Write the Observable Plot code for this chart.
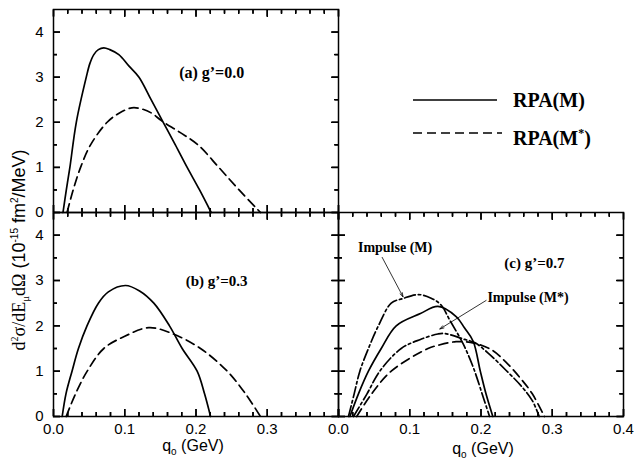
<!DOCTYPE html>
<html><head><meta charset="utf-8">
<script src="https://cdn.jsdelivr.net/npm/d3@7"></script>
<script src="https://cdn.jsdelivr.net/npm/@observablehq/plot@0.6"></script>
<style>
body{margin:0;background:#fff;}
#wrap{position:relative;width:634px;height:464px;overflow:hidden;background:#fff;}
#wrap svg{position:absolute;overflow:visible;}
.lbl{position:absolute;white-space:nowrap;color:#000;}
.serif{font-family:"Liberation Serif","Times New Roman",serif;}
.sans{font-family:"Liberation Sans",Arial,sans-serif;}
</style></head><body><div id="wrap"></div>
<script>
// ---------- data (q0 in GeV, cross section in 10^-15 fm^2/MeV) ----------
// panel (a) g'=0.0
const qA_rpaM  = [0.0133, 0.018, 0.023, 0.032, 0.046, 0.051, 0.0566, 0.063, 0.0706, 0.079, 0.0917, 0.1057, 0.120, 0.137, 0.154, 0.171, 0.1876, 0.205, 0.2213];
const vA_rpaM  = [0, 0.5, 1, 2, 3, 3.3, 3.5, 3.61, 3.65, 3.61, 3.5, 3.25, 3.0, 2.5, 2.0, 1.5, 1.0, 0.5, 0];
const qA_rpaMs = [0.019, 0.0276, 0.038, 0.052, 0.0753, 0.092, 0.110, 0.125, 0.138, 0.152, 0.178, 0.2028, 0.232, 0.2605, 0.2905];
const vA_rpaMs = [0, 0.5, 1, 1.5, 2, 2.2, 2.32, 2.29, 2.2, 2.03, 1.77, 1.5, 1.0, 0.5, 0];
// panel (b) g'=0.3
const qB_rpaM  = [0.0122, 0.0175, 0.026, 0.035, 0.047, 0.063, 0.077, 0.101, 0.1208, 0.1408, 0.1628, 0.1806, 0.2016, 0.212, 0.2204];
const vB_rpaM  = [0, 0.5, 1, 1.5, 2, 2.5, 2.75, 2.89, 2.77, 2.5, 2.0, 1.5, 1.0, 0.5, 0];
const qB_rpaMs = [0.0178, 0.0309, 0.0473, 0.0706, 0.100, 0.1338, 0.1666, 0.2063, 0.2438, 0.2695, 0.2905];
const vB_rpaMs = [0, 0.5, 1, 1.5, 1.77, 1.96, 1.83, 1.5, 1.0, 0.5, 0];
// panel (c) g'=0.7
const qC_rpaM  = [0.016, 0.028, 0.042, 0.060, 0.081, 0.115, 0.1395, 0.1655, 0.177, 0.189, 0.199, 0.207, 0.2166];
const vC_rpaM  = [0, 0.5, 1, 1.5, 2, 2.27, 2.43, 2.2, 1.95, 1.66, 1.0, 0.5, 0];
const qC_rpaMs = [0.0256, 0.0465, 0.074, 0.1256, 0.1395, 0.165, 0.19, 0.216, 0.235, 0.255, 0.272, 0.289];
const vC_rpaMs = [0, 0.5, 1, 1.5, 1.57, 1.65, 1.62, 1.46, 1.2, 0.85, 0.5, 0];
const qC_impM  = [0.014, 0.022, 0.030, 0.042, 0.056, 0.074, 0.090, 0.112, 0.130, 0.144, 0.156, 0.175, 0.189, 0.203, 0.212];
const vC_impM  = [0, 0.5, 1, 1.5, 2, 2.5, 2.6, 2.69, 2.61, 2.46, 2.13, 1.6, 1.09, 0.43, 0];
const qC_impMs = [0.021, 0.040, 0.058, 0.088, 0.115, 0.1395, 0.149, 0.177, 0.191, 0.21, 0.235, 0.256, 0.272, 0.2817];
const vC_impMs = [0, 0.5, 1, 1.5, 1.70, 1.82, 1.83, 1.70, 1.63, 1.4, 1.02, 0.68, 0.35, 0];

// ---------- ticks ----------
const xMajorTicks = [0, 0.1, 0.2, 0.3, 0.4];
const xMinorTicks = [0.02, 0.04, 0.06, 0.08, 0.12, 0.14, 0.16, 0.18, 0.22, 0.24, 0.26, 0.28, 0.32, 0.34, 0.36, 0.38];
const yMajorTicks = [0, 1, 2, 3, 4];
const yMinorTicks = [0.5, 1.5, 2.5, 3.5];
const xLabelsB = [0, 0.1, 0.2, 0.3];
const xLabelsC = [0, 0.1, 0.2, 0.3, 0.4];
const yLabels = [0, 1, 2, 3, 4];
const X_DOMAIN = [0, 0.4];
const Y_DOMAIN = [0, 4.5];

// ---------- annotations ----------
const panelLabels = {
  a: {text: "(a) g’=0.0", q: 0.222, v: 3.1, size: 16},
  b: {text: "(b) g’=0.3", q: 0.229, v: 2.98, size: 15},
  c: {text: "(c) g’=0.7", q: 0.275, v: 3.38, size: 15}
};
const impulseLabels = [
  {text: "Impulse (M)", q: 0.0794, v: 3.73},
  {text: "Impulse (M*)", q: 0.266, v: 2.63}
];
const impulseArrows = [
  {x1: 0.0613, y1: 3.51, x2: 0.0906, y2: 2.64},
  {x1: 0.2072, y1: 2.56, x2: 0.1422, y2: 1.93}
];

const DASH = "9,5";
const DASHDOT = "11,3,2.5,3";
const rows = (q, v) => q.map((d, i) => ({q: d, v: v[i]}));
const wrap = document.getElementById("wrap");
const noText = () => "";

// inward tick marks on all four sides
function tickMarks(innerW, innerH) {
  const kx = innerW / (X_DOMAIN[1] - X_DOMAIN[0]);
  const ky = innerH / (Y_DOMAIN[1] - Y_DOMAIN[0]);
  const out = [];
  for (const [vals, len] of [[xMajorTicks, 7], [xMinorTicks, 4]]) {
    const dy = len / ky;
    out.push(Plot.ruleX(vals, {x: d => d, y1: Y_DOMAIN[0], y2: Y_DOMAIN[0] + dy, stroke: "black", strokeWidth: 1.5}));
    out.push(Plot.ruleX(vals, {x: d => d, y1: Y_DOMAIN[1] - dy, y2: Y_DOMAIN[1], stroke: "black", strokeWidth: 1.5}));
    out.push(Plot.axisX(vals, {anchor: "bottom", tickSize: -len, tickFormat: noText, label: null, stroke: "black", strokeWidth: 1.5}));
    out.push(Plot.axisX(vals, {anchor: "top", tickSize: -len, tickFormat: noText, label: null, stroke: "black", strokeWidth: 1.5}));
  }
  for (const [vals, len] of [[yMajorTicks, 7], [yMinorTicks, 4]]) {
    const dx = len / kx;
    out.push(Plot.ruleY(vals, {y: d => d, x1: X_DOMAIN[0], x2: X_DOMAIN[0] + dx, stroke: "black", strokeWidth: 1.5}));
    out.push(Plot.ruleY(vals, {y: d => d, x1: X_DOMAIN[1] - dx, x2: X_DOMAIN[1], stroke: "black", strokeWidth: 1.5}));
    out.push(Plot.axisY(vals, {anchor: "left", tickSize: -len, tickFormat: noText, label: null, stroke: "black", strokeWidth: 1.5}));
    out.push(Plot.axisY(vals, {anchor: "right", tickSize: -len, tickFormat: noText, label: null, stroke: "black", strokeWidth: 1.5}));
  }
  return out;
}

function panel(cfg) {
  const {left, top, width, height, mL, mR, mT, mB} = cfg;
  const innerW = width - mL - mR, innerH = height - mT - mB;
  const marks = [...tickMarks(innerW, innerH)];
  for (const s of cfg.series) {
    marks.push(Plot.line(rows(s.q, s.v), {x: "q", y: "v", curve: "catmull-rom", stroke: "black",
      strokeWidth: 1.7, strokeDasharray: s.dash || null}));
  }
  marks.push(Plot.frame({stroke: "black", strokeWidth: 1.5}));
  if (cfg.xLabels) marks.push(Plot.axisX(cfg.xLabels, {tickSize: 0, tickPadding: 7, tickFormat: d3.format(".1f"), label: null, fontSize: 15}));
  if (cfg.yLabels) marks.push(Plot.axisY(cfg.yLabels, {tickSize: 0, tickPadding: 10, tickFormat: d3.format("d"), label: null, fontSize: 15}));
  const pl = cfg.panelLabel;
  marks.push(Plot.text([pl], {x: "q", y: "v", text: "text", fontFamily: "Liberation Serif", fontWeight: "bold", fontSize: pl.size, fill: "black"}));
  if (cfg.extra) marks.push(...cfg.extra);
  const svg = Plot.plot({
    width, height, marginLeft: mL, marginRight: mR, marginTop: mT, marginBottom: mB,
    x: {domain: X_DOMAIN, label: null},
    y: {domain: Y_DOMAIN, label: null},
    style: {background: "transparent", fontFamily: "Liberation Sans, Arial, sans-serif", fontSize: "15px", color: "black", overflow: "visible"},
    marks
  });
  svg.style.position = "absolute";
  svg.style.left = left + "px";
  svg.style.top = top + "px";
  wrap.appendChild(svg);
}

panel({left: 0, top: 0, width: 340, height: 214, mL: 53, mR: 2, mT: 9, mB: 2,
  series: [{q: qA_rpaM, v: vA_rpaM}, {q: qA_rpaMs, v: vA_rpaMs, dash: DASH}],
  yLabels, panelLabel: panelLabels.a});

panel({left: 0, top: 210, width: 340, height: 254, mL: 53, mR: 2, mT: 2, mB: 48,
  series: [{q: qB_rpaM, v: vB_rpaM}, {q: qB_rpaMs, v: vB_rpaMs, dash: DASH}],
  xLabels: xLabelsB, yLabels, panelLabel: panelLabels.b});

panel({left: 336, top: 210, width: 298, height: 254, mL: 2, mR: 11, mT: 2, mB: 48,
  series: [{q: qC_rpaM, v: vC_rpaM}, {q: qC_rpaMs, v: vC_rpaMs, dash: DASH},
           {q: qC_impM, v: vC_impM, dash: DASHDOT}, {q: qC_impMs, v: vC_impMs, dash: DASHDOT}],
  xLabels: xLabelsC, panelLabel: panelLabels.c,
  extra: [
    Plot.text(impulseLabels, {x: "q", y: "v", text: "text", fontFamily: "Liberation Serif", fontWeight: "bold", fontSize: 14, fill: "black"}),
    Plot.arrow(impulseArrows, {x1: "x1", y1: "y1", x2: "x2", y2: "y2", stroke: "black", strokeWidth: 0.8, headLength: 8, headAngle: 35})
  ]});

// ---------- axis titles & legend ----------
function addLbl(html, style) {
  const d = document.createElement("div");
  d.className = "lbl";
  d.innerHTML = html;
  Object.assign(d.style, style);
  wrap.appendChild(d);
  return d;
}
addLbl('<span class="sans">q<sub style="font-size:10px">o</sub> (GeV)</span>', {left: "193px", top: "438px", fontSize: "16px", lineHeight: "16px", transform: "translateX(-50%)"});
addLbl('<span class="sans">q<sub style="font-size:10px">o</sub> (GeV)</span>', {left: "483px", top: "441px", fontSize: "16px", lineHeight: "16px", transform: "translateX(-50%)"});
addLbl('<span class="serif">d<sup style="font-size:10px">2</sup>σ/dE<sub style="font-size:11px">μ</sub>dΩ</span><span class="sans"> (10<sup style="font-size:10px">-15</sup> fm<sup style="font-size:10px">2</sup>/MeV)</span>',
  {left: "20px", top: "250px", fontSize: "18px", lineHeight: "20px", transform: "translate(-50%,-50%) rotate(-90deg)"});

const leg = document.createElementNS("http://www.w3.org/2000/svg", "svg");
leg.setAttribute("width", "100"); leg.setAttribute("height", "60");
leg.style.left = "410px"; leg.style.top = "90px";
leg.innerHTML = '<line x1="3" y1="10" x2="87" y2="10" stroke="black" stroke-width="1.7"/>' +
  '<line x1="3" y1="43" x2="92" y2="43" stroke="black" stroke-width="1.7" stroke-dasharray="' + DASH + '"/>';
wrap.appendChild(leg);
addLbl('RPA(M)', {left: "513px", top: "87px", fontSize: "20px", lineHeight: "26px", fontWeight: "bold", fontFamily: '"Liberation Serif",serif'});
addLbl('RPA(M<sup style="font-size:12px">*</sup>)', {left: "513px", top: "120px", fontSize: "20px", lineHeight: "26px", fontWeight: "bold", fontFamily: '"Liberation Serif",serif'});
</script></body></html>
